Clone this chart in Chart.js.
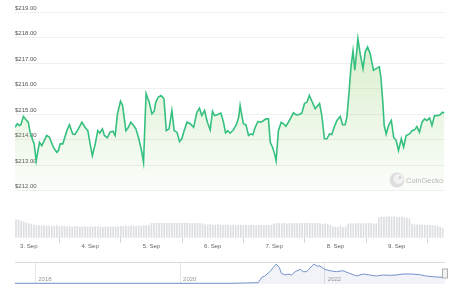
<!DOCTYPE html>
<html>
<head>
<meta charset="utf-8">
<script src="https://cdn.jsdelivr.net/npm/chart.js@4.4.0/dist/chart.umd.min.js"></script>
<style>
  html, body { margin: 0; padding: 0; background: #fff; }
  #wrap { position: relative; width: 460px; height: 294px; overflow: hidden; }
  #priceChart { position: absolute; left: 0; top: 0; }
  #navChart { position: absolute; left: 0; top: 250px; }
</style>
</head>
<body>
<div id="wrap">
  <canvas id="priceChart" width="460" height="250"></canvas>
  <canvas id="navChart" width="460" height="44"></canvas>
</div>
<script>
// price chart data: hours counted from 3 Sep 00:00
const hours = [
  -5.4, -4.5, -3.7, -3.1, -2.1, -1.1, -0.2, 0.5, 1.6, 2.1, 2.9, 3.4, 4.2, 5.1, 5.7,
  7.0, 8.1, 9.6, 11.0, 11.6, 12.3, 13.3, 14.9, 15.9, 17.2, 18.1, 19.4, 20.8, 22.0, 23.1,
  24.0, 24.9, 26.0, 27.0, 27.8, 28.8, 29.6, 30.7, 31.8, 32.9, 33.8, 34.7, 35.9, 36.7, 38.0,
  39.0, 39.9, 41.0, 41.9, 42.9, 44.0, 44.9, 45.9, 47.1, 48.2, 49.1, 49.7, 50.7, 51.8, 52.9,
  53.4, 53.8, 54.9, 56.0, 56.9, 58.0, 59.0, 59.9, 60.8, 61.9, 63.2, 64.5, 65.8, 66.8, 67.7,
  68.8, 69.9, 71.0, 71.9, 72.7, 73.8, 75.2, 76.2, 77.0, 77.9, 78.8, 80.1, 81.4, 82.2, 82.7,
  83.4, 84.0, 85.0, 86.0, 86.9, 87.7, 88.6, 89.7, 90.6, 91.5, 92.8, 93.8, 94.5, 95.4, 96.2,
  96.8, 97.7, 98.8, 99.7, 100.6, 101.6, 102.7, 103.6, 104.7, 105.8, 106.9, 107.9, 108.9, 109.8, 110.8,
  112.1, 112.8, 113.8, 114.7, 115.7, 116.7, 117.7, 118.6, 119.5, 120.6, 121.9, 122.8, 123.8, 124.5, 125.3,
  126.1, 126.9, 127.6, 128.4, 128.8, 129.7, 130.8, 131.7, 132.6, 133.6, 134.9, 136.0, 137.2, 137.8, 138.6,
  139.1, 139.9, 140.8, 141.9, 142.8, 143.8, 144.7, 145.8, 146.7, 147.7, 149.0, 150.0, 151.0, 151.9, 152.9,
  153.9, 154.9, 155.8, 156.9, 157.8, 158.8, 160.0, 161.0, 161.9, 162.6
];
const prices = [
  214.48, 214.62, 214.55, 214.58, 214.91, 214.78, 214.68, 214.29, 213.96, 213.83, 213.17, 213.45, 213.89, 213.76, 213.89,
  214.16, 214.09, 213.70, 213.50, 213.57, 213.83, 213.83, 214.35, 214.58, 214.22, 214.20, 214.42, 214.68, 214.48, 214.35,
  213.83, 213.37, 213.83, 214.35, 214.25, 214.42, 214.16, 214.07, 214.29, 214.33, 214.16, 215.01, 215.51, 215.34, 214.35,
  214.48, 214.68, 214.55, 214.42, 214.09, 213.63, 213.11, 215.80, 215.47, 215.01, 215.11, 215.47, 215.67, 215.73, 215.60,
  214.94, 214.35, 214.42, 215.14, 214.35, 214.29, 213.92, 214.03, 214.35, 214.68, 214.62, 214.48, 215.07, 215.23, 214.94,
  215.14, 214.68, 214.38, 215.11, 214.94, 214.97, 215.04, 214.68, 214.26, 214.35, 214.25, 214.38, 214.62, 214.91, 215.34,
  214.94, 214.62, 214.58, 214.16, 214.22, 214.19, 214.48, 214.71, 214.68, 214.72, 214.81, 214.81, 213.89, 213.70, 213.44,
  213.17, 214.35, 214.68, 214.62, 214.52, 214.68, 214.88, 215.05, 214.97, 214.98, 215.04, 215.41, 215.47, 215.73, 215.50,
  215.21, 215.30, 215.41, 214.94, 214.03, 214.03, 214.22, 214.20, 214.48, 214.75, 214.91, 214.58, 214.58, 214.88, 215.80,
  216.85, 217.48, 216.72, 217.50, 217.96, 217.37, 216.78, 217.44, 217.63, 217.37, 216.72, 216.78, 216.85, 216.45, 215.41,
  214.55, 214.22, 214.55, 214.75, 214.09, 213.96, 213.57, 214.03, 213.70, 214.16, 214.22, 214.35, 214.38, 214.51, 214.29,
  214.68, 214.81, 214.75, 214.85, 214.55, 214.94, 214.94, 214.97, 215.07, 215.04
];
// hourly volume (millions), first bar at hour -5
const volumeStart = -5;
const volumes = [
  3.8, 3.75, 3.6, 3.4, 3.2,
  3.0, 2.8, 2.7, 2.6, 2.65, 2.55, 2.6, 2.5, 2.55, 2.45, 2.5, 2.6,
  2.4, 2.45, 2.5, 2.35, 2.4, 2.3, 2.45, 2.4, 2.3, 2.35, 2.4, 2.3,
  2.35, 2.3, 2.4, 2.35, 2.3, 2.25, 2.35, 2.3, 2.4, 2.35, 2.3, 2.4,
  2.45, 2.4, 2.5, 2.45, 2.55, 2.5, 2.45, 2.55, 2.5, 2.6, 2.55, 2.6,
  3.0, 3.1, 3.05, 3.1, 3.15, 3.05, 3.1, 3.15, 3.1, 3.05, 3.1, 3.15,
  3.1, 3.05, 3.1, 3.0, 3.05, 3.1, 3.0, 3.05, 2.95, 2.8, 2.75, 2.8,
  2.75, 2.7, 2.8, 2.75, 2.7, 2.75, 2.7, 2.65, 2.7, 2.6, 2.65, 2.7,
  2.6, 2.65, 2.6, 2.7, 2.65, 2.6, 2.65, 2.7, 2.6, 2.65, 2.6, 2.7,
  2.95, 3.05, 3.0, 3.1, 3.05, 2.95, 3.05, 3.0, 3.1, 3.05, 3.0, 3.05,
  3.1, 3.05, 3.1, 3.0, 3.05, 3.1, 3.0, 2.9, 2.95, 2.85, 2.6, 2.4,
  2.3, 2.25, 2.5, 2.2, 2.4, 2.9, 3.0, 2.95, 3.0, 3.05, 3.0, 2.95,
  3.0, 3.05, 3.0, 2.95, 3.0, 4.3, 4.45, 4.4, 4.5, 4.45, 4.4, 4.45,
  4.4, 4.35, 4.4, 4.3, 4.2, 4.1, 2.9, 2.75, 2.7, 2.75, 2.7, 2.65,
  2.7, 2.65, 2.6, 2.55, 2.5, 2.3, 2.0
];
const priceTicks = [212, 213, 214, 215, 216, 217, 218, 219];
const dayTicks = [0, 24, 48, 72, 96, 120, 144];
const dayLabels = ["3. Sep", "4. Sep", "5. Sep", "6. Sep", "7. Sep", "8. Sep", "9. Sep"];

// navigator (full history)
const navYears = [
  2017.72, 2020.69, 2021.08, 2021.13, 2021.17, 2021.24, 2021.29, 2021.33, 2021.37, 2021.40,
  2021.45, 2021.49, 2021.54, 2021.59, 2021.66, 2021.70, 2021.75, 2021.79, 2021.85, 2021.89,
  2021.93, 2022.00, 2022.07, 2022.16, 2022.25, 2022.34, 2022.44, 2022.53, 2022.62, 2022.71,
  2022.80, 2022.90, 2022.99, 2023.08, 2023.20, 2023.31, 2023.40, 2023.49, 2023.63, 2023.66
];
const navPrices = [
  22, 22, 42, 214, 256, 394, 534, 640, 534, 342,
  288, 320, 288, 394, 470, 394, 394, 502, 640, 576,
  576, 470, 426, 394, 426, 342, 256, 320, 288, 256,
  288, 278, 288, 320, 320, 298, 256, 234, 214, 215
];
const navTicks = [2018, 2020, 2022];

Chart.defaults.font.family = "'Liberation Sans', Arial, sans-serif";

// CoinGecko watermark
const watermark = {
  id: 'watermark',
  afterDatasetsDraw(chart) {
    const ctx = chart.ctx;
    ctx.save();
    ctx.fillStyle = '#dedede';
    ctx.beginPath(); ctx.arc(397, 180, 7.5, 0, Math.PI * 2); ctx.fill();
    ctx.fillStyle = '#f2f2f2';
    ctx.beginPath(); ctx.arc(398.5, 179, 5, 0, Math.PI * 2); ctx.fill();
    ctx.fillStyle = '#cfcfcf';
    ctx.beginPath(); ctx.arc(400, 177.5, 1.3, 0, Math.PI * 2); ctx.fill();
    ctx.fillStyle = '#b9b9b9';
    ctx.font = "7.5px 'Liberation Sans', Arial, sans-serif";
    ctx.textBaseline = 'middle';
    ctx.fillText('CoinGecko', 406, 181);
    ctx.restore();
  }
};

const priceCtx = document.getElementById('priceChart').getContext('2d');
new Chart(priceCtx, {
  type: 'line',
  data: {
    datasets: [{
      type: 'line',
      data: hours.map((h, i) => ({ x: h, y: prices[i] })),
      borderColor: '#35c07f',
      borderWidth: 1.6,
      pointRadius: 0,
      tension: 0,
      fill: { value: 212 },
      backgroundColor: function (c) {
        const { ctx, chartArea, scales } = c.chart;
        if (!chartArea) return 'rgba(130,200,90,0.1)';
        const g = ctx.createLinearGradient(0, scales.y.getPixelForValue(218), 0, scales.y.getPixelForValue(212));
        g.addColorStop(0, 'rgba(130, 200, 90, 0.30)');
        g.addColorStop(1, 'rgba(130, 200, 90, 0.03)');
        return g;
      },
      yAxisID: 'y',
      order: 0
    }, {
      type: 'bar',
      data: volumes.map((v, i) => ({ x: volumeStart + i, y: v })),
      backgroundColor: '#dcdee2',
      barThickness: 1,
      grouped: false,
      yAxisID: 'yv',
      order: 1
    }]
  },
  options: {
    responsive: false,
    animation: false,
    layout: { padding: { left: 15, right: 15, top: 12, bottom: 0 } },
    plugins: { legend: { display: false }, tooltip: { enabled: false } },
    scales: {
      x: {
        type: 'linear',
        min: -5.4,
        max: 162.9,
        offset: false,
        afterBuildTicks: s => { s.ticks = dayTicks.map(v => ({ value: v })); },
        ticks: {
          callback: v => dayLabels[dayTicks.indexOf(v)],
          color: '#666',
          font: { size: 6 },
          padding: 0,
          maxRotation: 0,
          autoSkip: false
        },
        grid: { drawOnChartArea: false, drawTicks: true, tickLength: 5, color: '#ccd6eb' },
        border: { display: false }
      },
      y: {
        type: 'linear',
        position: 'left',
        min: 210.15,
        max: 219,
        afterBuildTicks: s => { s.ticks = priceTicks.map(v => ({ value: v })); },
        ticks: {
          mirror: true,
          padding: 0,
          labelOffset: -4,
          color: '#555',
          font: { size: 6 },
          callback: v => '$' + v.toFixed(2)
        },
        grid: { color: '#f0f0f0', drawTicks: false },
        border: { display: false }
      },
      yv: {
        type: 'linear',
        position: 'right',
        display: false,
        min: 0,
        max: 48
      }
    }
  },
  plugins: [watermark]
});

// navigator outline + handle
const navDecor = {
  id: 'navDecor',
  afterDraw(chart) {
    const { ctx, chartArea: a } = chart;
    ctx.save();
    ctx.strokeStyle = '#dadada';
    ctx.lineWidth = 1;
    ctx.beginPath();
    ctx.moveTo(a.left, a.top + 0.5);
    ctx.lineTo(a.right, a.top + 0.5);
    ctx.stroke();
    ctx.fillStyle = '#f2f2f2';
    ctx.strokeStyle = '#b0b0b0';
    ctx.fillRect(a.right - 2.5, a.top + 7, 5, 9);
    ctx.strokeRect(a.right - 2.5, a.top + 7, 5, 9);
    ctx.restore();
  }
};

const navCtx = document.getElementById('navChart').getContext('2d');
new Chart(navCtx, {
  type: 'line',
  data: {
    datasets: [{
      data: navYears.map((y, i) => ({ x: y, y: navPrices[i] })),
      borderColor: '#7590cc',
      borderWidth: 1,
      backgroundColor: 'rgba(51, 92, 173, 0.07)',
      fill: 'start',
      pointRadius: 0,
      tension: 0
    }]
  },
  options: {
    responsive: false,
    animation: false,
    layout: { padding: { left: 15, right: 15, top: 12, bottom: 10 } },
    plugins: { legend: { display: false }, tooltip: { enabled: false } },
    scales: {
      x: {
        type: 'linear',
        min: 2017.72,
        max: 2023.66,
        afterBuildTicks: s => { s.ticks = navTicks.map(v => ({ value: v })); },
        ticks: {
          align: 'start',
          labelOffset: 3,
          padding: -8,
          color: '#999',
          font: { size: 6 },
          maxRotation: 0,
          callback: v => String(v)
        },
        grid: { color: '#e6e6e6', drawTicks: false },
        border: { display: false }
      },
      y: { display: false, min: 0, max: 704 }
    }
  },
  plugins: [navDecor]
});
</script>
</body>
</html>
